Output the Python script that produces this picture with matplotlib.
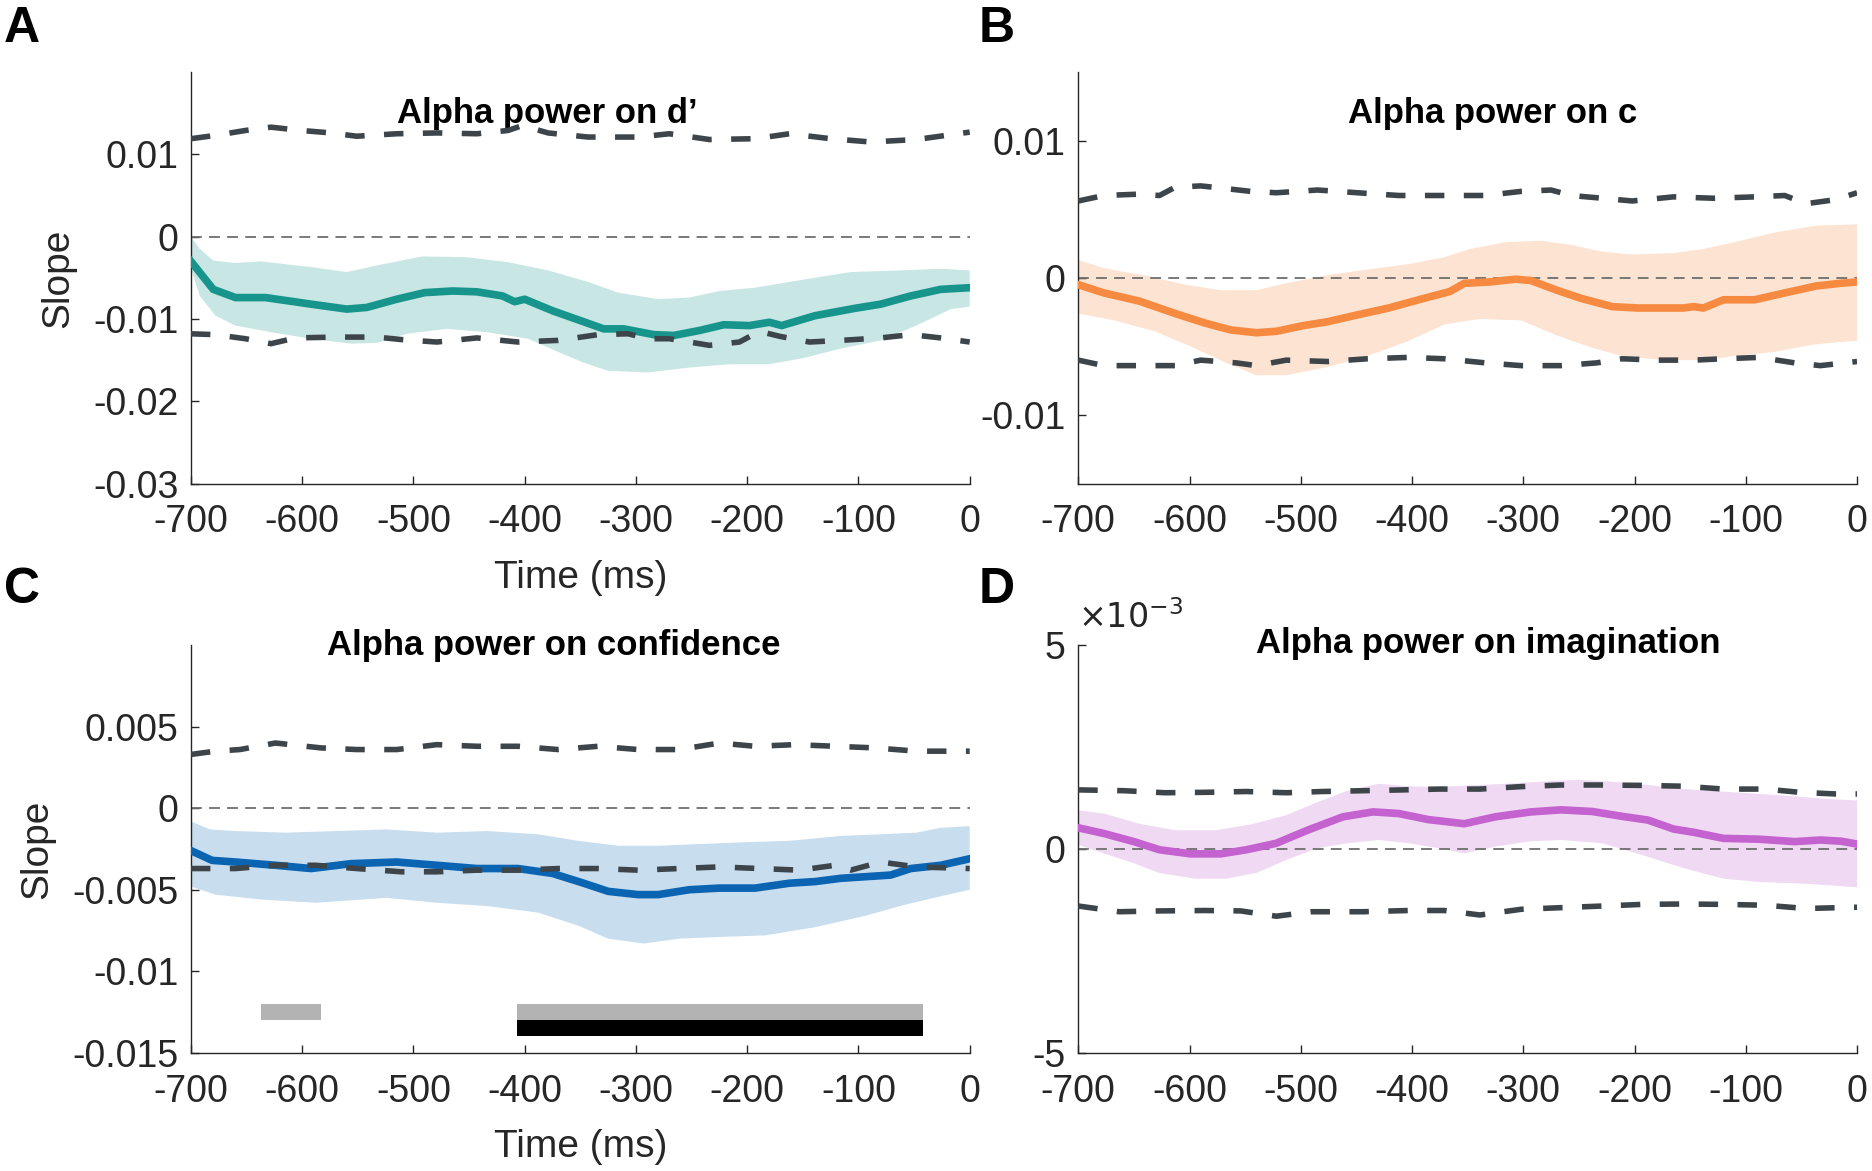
import matplotlib
matplotlib.use("Agg")
import matplotlib.pyplot as plt
import numpy as np

plt.rcParams['font.family'] = ['Liberation Sans', 'DejaVu Sans']
plt.rcParams['axes.unicode_minus'] = False

# ---- panel A: alpha power on d' ----
a_mean_t = [-700, -680, -660, -633, -592, -560, -542, -515, -490, -465, -443, -420, -409, -400, -375,
            -352, -329, -311, -284, -266, -243, -221, -198, -180, -169, -139, -103, -80, -53, -26, 0]
a_mean = [-0.0030, -0.0064, -0.0074, -0.0074, -0.0082, -0.0088, -0.0086, -0.0076, -0.0068, -0.0066,
          -0.0067, -0.0072, -0.0079, -0.0076, -0.0090, -0.0101, -0.0112, -0.0112, -0.0119, -0.0120,
          -0.0114, -0.0107, -0.0108, -0.0104, -0.0108, -0.0096, -0.0087, -0.0082, -0.0072, -0.0064, -0.0062]
a_up_t = [-700, -692, -680, -660, -637, -592, -560, -533, -492, -452, -415, -379, -343, -316, -280,
          -252, -225, -193, -162, -135, -107, -62, -26, 0]
a_up = [0.0, -0.0015, -0.0029, -0.0032, -0.0030, -0.0037, -0.0043, -0.0035, -0.0024, -0.0025, -0.0031,
        -0.0041, -0.0055, -0.0068, -0.0076, -0.0074, -0.0066, -0.0062, -0.0055, -0.0049, -0.0043,
        -0.0041, -0.0039, -0.0041]
a_lo_t = [-700, -692, -678, -660, -628, -592, -556, -533, -506, -470, -434, -397, -370, -347, -325,
          -289, -252, -216, -180, -148, -116, -80, -48, -17, 0]
a_lo = [-0.0039, -0.0072, -0.0096, -0.0108, -0.0116, -0.0124, -0.0130, -0.0129, -0.0118, -0.0112,
        -0.0116, -0.0124, -0.0140, -0.0153, -0.0163, -0.0165, -0.0159, -0.0155, -0.0155, -0.0147,
        -0.0136, -0.0126, -0.0108, -0.0088, -0.0085]
a_nu_t = [-700, -678, -651, -628, -601, -574, -551, -515, -479, -443, -415, -402, -379, -343, -298,
          -270, -234, -193, -162, -125, -89, -48, 0]
a_nu = [0.0119, 0.0123, 0.0129, 0.0133, 0.0129, 0.0126, 0.0122, 0.0125, 0.0126, 0.0125, 0.0129, 0.0135,
        0.0126, 0.0121, 0.0121, 0.0125, 0.0118, 0.0119, 0.0125, 0.0119, 0.0115, 0.0118, 0.0127]
a_nl_t = [-700, -678, -651, -628, -606, -570, -533, -511, -479, -443, -406, -370, -334, -307, -289,
          -270, -234, -207, -189, -171, -144, -116, -80, -53, -26, 0]
a_nl = [-0.0118, -0.0119, -0.0124, -0.0130, -0.0123, -0.0122, -0.0122, -0.0125, -0.0128, -0.0123,
        -0.0128, -0.0126, -0.0119, -0.0118, -0.0124, -0.0124, -0.0132, -0.0128, -0.0115, -0.0121,
        -0.0128, -0.0126, -0.0123, -0.0119, -0.0123, -0.0128]

# ---- panel B: alpha power on c ----
b_mean_t = [-700, -677, -645, -613, -586, -563, -540, -522, -499, -476, -449, -421, -394, -366, -353,
            -330, -307, -293, -270, -248, -220, -197, -174, -156, -147, -138, -120, -92, -65, -37, -15, 0]
b_mean = [-0.0005, -0.0011, -0.0017, -0.0026, -0.0033, -0.0038, -0.0040, -0.0039, -0.0035, -0.0032,
          -0.0027, -0.0022, -0.0016, -0.0010, -0.0004, -0.0003, -0.0001, -0.0002, -0.0009, -0.0015,
          -0.0021, -0.0022, -0.0022, -0.0022, -0.0021, -0.0022, -0.0016, -0.0016, -0.0011, -0.0006,
          -0.0004, -0.0003]
b_up_t = [-700, -677, -636, -604, -572, -540, -513, -476, -440, -403, -371, -348, -316, -284, -257,
          -229, -202, -165, -138, -110, -74, -37, 0]
b_up = [0.0013, 0.0007, 0.0001, -0.0005, -0.0009, -0.0009, -0.0004, 0.0002, 0.0006, 0.0010, 0.0015,
        0.0021, 0.0026, 0.0027, 0.0024, 0.0019, 0.0017, 0.0018, 0.0021, 0.0026, 0.0033, 0.0038, 0.0039]
b_lo_t = [-700, -668, -631, -599, -567, -540, -513, -476, -440, -403, -371, -339, -302, -270, -238,
          -211, -174, -138, -110, -74, -42, -19, 0]
b_lo = [-0.0026, -0.0031, -0.0039, -0.0050, -0.0062, -0.0071, -0.0071, -0.0065, -0.0057, -0.0046,
        -0.0034, -0.0030, -0.0031, -0.0042, -0.0051, -0.0057, -0.0060, -0.0060, -0.0057, -0.0054,
        -0.0049, -0.0047, -0.0046]
b_nu_t = [-700, -677, -645, -627, -613, -590, -567, -545, -522, -485, -449, -412, -371, -334, -302,
          -275, -257, -229, -202, -165, -129, -92, -65, -46, -19, 0]
b_nu = [0.0056, 0.0060, 0.0061, 0.0060, 0.0066, 0.0067, 0.0065, 0.0063, 0.0062, 0.0064, 0.0062, 0.0060,
        0.0060, 0.0060, 0.0063, 0.0064, 0.0060, 0.0058, 0.0056, 0.0059, 0.0058, 0.0059, 0.0060, 0.0054,
        0.0057, 0.0062]
b_nl_t = [-700, -677, -645, -613, -590, -558, -540, -513, -476, -440, -403, -371, -334, -302, -266,
          -234, -211, -179, -147, -120, -88, -56, -33, 0]
b_nl = [-0.0060, -0.0064, -0.0064, -0.0064, -0.0060, -0.0062, -0.0064, -0.0060, -0.0061, -0.0059,
        -0.0058, -0.0059, -0.0062, -0.0064, -0.0064, -0.0062, -0.0059, -0.0060, -0.0060, -0.0059,
        -0.0058, -0.0062, -0.0064, -0.0061]

# ---- panel C: alpha power on confidence ----
c_mean_t = [-700, -681, -660, -624, -592, -556, -515, -479, -443, -406, -375, -347, -325, -298, -280,
            -252, -225, -193, -162, -139, -116, -71, -53, -26, 0]
c_mean = [-0.0026, -0.0032, -0.0033, -0.0035, -0.0037, -0.0034, -0.0033, -0.0035, -0.0037, -0.0037,
          -0.0040, -0.0046, -0.0051, -0.0053, -0.0053, -0.0050, -0.0049, -0.0049, -0.0046, -0.0045,
          -0.0043, -0.0041, -0.0037, -0.0035, -0.0031]
c_up_t = [-700, -683, -660, -615, -570, -524, -479, -434, -388, -352, -316, -280, -243, -207, -162,
          -116, -80, -48, -26, 0]
c_up = [-0.0008, -0.0013, -0.0014, -0.0015, -0.0014, -0.0013, -0.0015, -0.0014, -0.0016, -0.0020,
        -0.0023, -0.0023, -0.0022, -0.0021, -0.0020, -0.0017, -0.0016, -0.0015, -0.0012, -0.0011]
c_lo_t = [-700, -678, -637, -588, -524, -479, -434, -388, -352, -325, -293, -261, -225, -184, -139,
          -94, -57, -26, 0]
c_lo = [-0.0048, -0.0053, -0.0056, -0.0058, -0.0055, -0.0058, -0.0060, -0.0064, -0.0072, -0.0080,
        -0.0083, -0.0080, -0.0079, -0.0078, -0.0073, -0.0066, -0.0059, -0.0054, -0.0050]
c_nu_t = [-700, -678, -656, -624, -583, -551, -515, -479, -443, -406, -370, -334, -298, -261, -225,
          -193, -157, -121, -85, -48, 0]
c_nu = [0.0033, 0.0035, 0.0036, 0.0040, 0.0037, 0.0036, 0.0036, 0.0039, 0.0038, 0.0038, 0.0036, 0.0038,
        0.0036, 0.0036, 0.0040, 0.0038, 0.0039, 0.0038, 0.0037, 0.0035, 0.0035]
c_nl_t = [-700, -660, -624, -588, -551, -511, -479, -443, -406, -370, -334, -298, -261, -225, -189,
          -153, -121, -107, -80, -48, 0]
c_nl = [-0.0037, -0.0037, -0.0035, -0.0035, -0.0037, -0.0039, -0.0039, -0.0038, -0.0038, -0.0037,
        -0.0037, -0.0038, -0.0037, -0.0036, -0.0037, -0.0038, -0.0035, -0.0038, -0.0033, -0.0036, -0.0037]
# significant clusters (start, duration) in ms
c_sig_gray = [(-637, 54), (-407, 365)]
c_sig_black = [(-407, 365)]

# ---- panel D: alpha power on imagination (values in units of 1e-3) ----
d_mean_t = [-700, -677, -650, -627, -599, -572, -549, -522, -494, -462, -435, -412, -385, -353, -325,
            -293, -266, -238, -211, -188, -165, -147, -120, -88, -56, -33, -14, 0]
d_mean = [0.52, 0.38, 0.18, -0.02, -0.12, -0.12, -0.02, 0.14, 0.46, 0.79, 0.91, 0.87, 0.72, 0.62,
          0.79, 0.91, 0.96, 0.92, 0.80, 0.71, 0.49, 0.41, 0.26, 0.24, 0.18, 0.22, 0.19, 0.12]
d_up_t = [-700, -677, -645, -613, -577, -545, -513, -485, -458, -430, -403, -376, -348, -316, -284,
          -252, -220, -188, -156, -110, -65, -28, 0]
d_up = [0.95, 0.87, 0.62, 0.46, 0.46, 0.60, 0.83, 1.15, 1.43, 1.60, 1.54, 1.52, 1.56, 1.60, 1.65,
        1.70, 1.65, 1.57, 1.47, 1.39, 1.31, 1.23, 1.19]
d_lo_t = [-700, -677, -650, -627, -595, -567, -540, -513, -485, -458, -430, -403, -376, -353, -325,
          -293, -266, -229, -193, -156, -120, -88, -42, 0]
d_lo = [0.10, -0.11, -0.35, -0.59, -0.73, -0.73, -0.59, -0.27, 0.02, 0.14, 0.22, 0.14, 0.02, -0.11,
        0.06, 0.19, 0.22, 0.14, -0.15, -0.47, -0.73, -0.81, -0.86, -0.94]
d_nu_t = [-700, -659, -622, -586, -549, -513, -481, -444, -408, -376, -339, -302, -266, -229, -193,
          -156, -120, -83, -51, -19, 0]
d_nu = [1.45, 1.43, 1.38, 1.39, 1.41, 1.38, 1.41, 1.43, 1.45, 1.47, 1.47, 1.53, 1.57, 1.57, 1.56,
        1.54, 1.47, 1.47, 1.39, 1.35, 1.35]
d_nl_t = [-700, -663, -627, -586, -554, -522, -490, -444, -403, -371, -339, -302, -266, -229, -193,
          -156, -120, -83, -46, 0]
d_nl = [-1.40, -1.54, -1.52, -1.51, -1.52, -1.65, -1.54, -1.54, -1.51, -1.51, -1.62, -1.48, -1.44,
        -1.40, -1.36, -1.35, -1.36, -1.38, -1.46, -1.43]

xticks = [-700, -600, -500, -400, -300, -200, -100, 0]
xticklabels = ['-700', '-600', '-500', '-400', '-300', '-200', '-100', '0']

NULL_COLOR = '#3d454b'
AX_COLOR = '#262626'


def draw_panel(ax, mt, m, ut, u, lt, l, nut, nu, nlt, nl, color, fill,
               ylim, yticks, yticklabels, title, title_x, title_y):
    ax.fill(np.r_[ut, lt[::-1]], np.r_[u, l[::-1]], color=fill, lw=0, zorder=1)
    ax.axhline(0, color='#6e6e6e', lw=1.3, ls=(0, (6, 4)), zorder=2)
    ax.plot(mt, m, color=color, lw=5.5, zorder=3, solid_joinstyle='round')
    for tt, vv in ((nut, nu), (nlt, nl)):
        ax.plot(tt, vv, color=NULL_COLOR, lw=4.0, ls=(0, (3.5, 3.5)),
                dash_capstyle='butt', zorder=4)
    ax.set_xlim(-700, 0)
    ax.set_ylim(*ylim)
    ax.set_xticks(xticks)
    ax.set_xticklabels(xticklabels)
    ax.set_yticks(yticks)
    ax.set_yticklabels(yticklabels)
    for s in ('top', 'right'):
        ax.spines[s].set_visible(False)
    for s in ('left', 'bottom'):
        ax.spines[s].set_color(AX_COLOR)
        ax.spines[s].set_linewidth(1.0)
    ax.tick_params(axis='both', direction='in', length=6, width=1.0,
                   color=AX_COLOR, labelcolor=AX_COLOR, labelsize=27)
    ax.tick_params(axis='x', pad=15)
    ax.tick_params(axis='y', pad=9)
    ax.text(title_x, title_y, title, transform=ax.transAxes, ha='center', va='center',
            fontsize=25, fontweight='bold', color='black')


fig = plt.figure(figsize=(18.72, 11.71), dpi=100)
axA = fig.add_axes([0.102, 0.587, 0.416, 0.3515])
axB = fig.add_axes([0.576, 0.587, 0.416, 0.3515])
axC = fig.add_axes([0.102, 0.101, 0.416, 0.348])
axD = fig.add_axes([0.576, 0.101, 0.416, 0.348])

draw_panel(axA, a_mean_t, a_mean, a_up_t, a_up, a_lo_t, a_lo, a_nu_t, a_nu, a_nl_t, a_nl,
           '#17958d', '#c8e6e4', (-0.03, 0.02), [-0.03, -0.02, -0.01, 0, 0.01],
           ['-0.03', '-0.02', '-0.01', '0', '0.01'], "Alpha power on d\u2019", 0.458, 0.90)
draw_panel(axB, b_mean_t, b_mean, b_up_t, b_up, b_lo_t, b_lo, b_nu_t, b_nu, b_nl_t, b_nl,
           '#f68a40', '#fde3d1', (-0.015, 0.015), [-0.01, 0, 0.01],
           ['-0.01', '0', '0.01'], "Alpha power on c", 0.532, 0.90)
draw_panel(axC, c_mean_t, c_mean, c_up_t, c_up, c_lo_t, c_lo, c_nu_t, c_nu, c_nl_t, c_nl,
           '#0b64b2', '#c8ddee', (-0.015, 0.01), [-0.015, -0.01, -0.005, 0, 0.005],
           ['-0.015', '-0.01', '-0.005', '0', '0.005'], "Alpha power on confidence", 0.466, 1.0)
draw_panel(axD, d_mean_t, d_mean, d_up_t, d_up, d_lo_t, d_lo, d_nu_t, d_nu, d_nl_t, d_nl,
           '#c462cf', '#f0daf3', (-5, 5), [-5, 0, 5],
           ['-5', '0', '5'], "Alpha power on imagination", 0.526, 1.005)

# significance bars in C
axC.broken_barh(c_sig_gray, (-0.0130, 0.0010), facecolors='#b3b3b3', lw=0, zorder=2)
axC.broken_barh(c_sig_black, (-0.0140, 0.0010), facecolors='black', lw=0, zorder=2)

# exponent label in D
axD.text(0.0, 1.025, r'$\times10^{-3}$', transform=axD.transAxes, ha='left', va='bottom',
         fontsize=24, color=AX_COLOR)

for ax in (axA, axC):
    ax.set_xlabel('Time (ms)', fontsize=28, color=AX_COLOR, labelpad=14)
    ax.set_ylabel('Slope', fontsize=28, color=AX_COLOR, labelpad=12)

for letter, x, y in (('A', 0.002, 0.995), ('B', 0.523, 0.995), ('C', 0.002, 0.516), ('D', 0.523, 0.516)):
    fig.text(x, y, letter, fontsize=36, fontweight='bold', ha='left', va='top')

fig.savefig('out.png', dpi=100, facecolor='white')
